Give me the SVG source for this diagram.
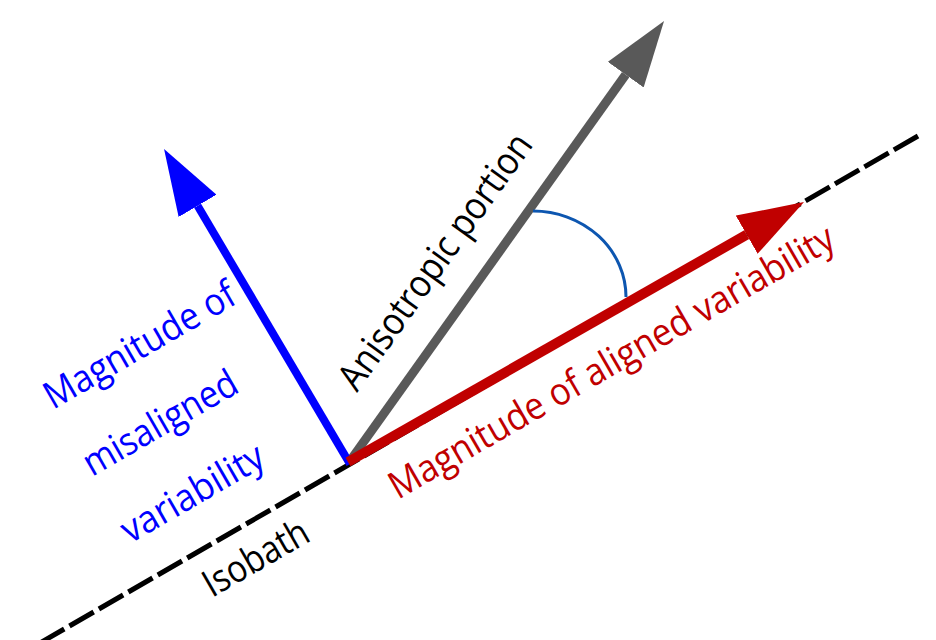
<svg xmlns="http://www.w3.org/2000/svg" width="936" height="640" viewBox="0 0 936 640">
<style>
.lbl{font-family:"Open Sans","Liberation Sans",sans-serif;font-size:38px}
.blue{fill:#0000ff}
.red{fill:#c00000}
.blk{fill:#000000}
</style>
<defs>
<marker id="hBlue" markerUnits="userSpaceOnUse" markerWidth="66" markerHeight="44" viewBox="0 0 66 44" refX="0" refY="22" orient="auto"><path d="M0,0 L66,22 L0,44 Z" fill="#0000ff"/></marker>
<marker id="hGray" markerUnits="userSpaceOnUse" markerWidth="66" markerHeight="44" viewBox="0 0 66 44" refX="0" refY="22" orient="auto"><path d="M0,0 L66,22 L0,44 Z" fill="#595959"/></marker>
<marker id="hRed" markerUnits="userSpaceOnUse" markerWidth="66" markerHeight="44" viewBox="0 0 66 44" refX="0" refY="22" orient="auto"><path d="M0,0 L66,22 L0,44 Z" fill="#c00000"/></marker>
</defs>
<rect width="936" height="640" fill="#ffffff"/>
<g id="isobath">
<line x1="40" y1="643" x2="918" y2="136" stroke="#000" stroke-width="5" stroke-dasharray="28 6"/>
</g>
<g id="connectors">
<line id="anisotropic" x1="350" y1="461" x2="625.7" y2="74.7" stroke="#595959" stroke-width="9" marker-end="url(#hGray)"/>
<line id="misaligned" x1="350" y1="464" x2="197.6" y2="205.8" stroke="#0000ff" stroke-width="8" marker-end="url(#hBlue)"/>
<line id="aligned" x1="348" y1="462" x2="746.7" y2="234.7" stroke="#c00000" stroke-width="10" marker-end="url(#hRed)"/>
<path id="angle" d="M533,211 A93,86 0 0 1 626,297" fill="none" stroke="#0d56b0" stroke-width="3"/>
</g>
<g id="label-misaligned">
<text class="lbl blue" transform="translate(53,410) rotate(-30)" textLength="215" lengthAdjust="spacingAndGlyphs">Magnitude of</text>
<text class="lbl blue" transform="translate(92,477) rotate(-30)" textLength="172" lengthAdjust="spacingAndGlyphs">misaligned</text>
<text class="lbl blue" transform="translate(130,544) rotate(-30)" textLength="159" lengthAdjust="spacingAndGlyphs">variability</text>
</g>
<g id="label-anisotropic">
<text class="lbl blk" transform="translate(357,393) rotate(-54.5)" textLength="305" lengthAdjust="spacingAndGlyphs">Anisotropic portion</text>
</g>
<g id="label-aligned">
<text class="lbl red" transform="translate(398,500) rotate(-30)" textLength="508" lengthAdjust="spacingAndGlyphs">Magnitude of aligned variability</text>
</g>
<g id="label-isobath">
<text class="lbl blk" transform="translate(212,598) rotate(-30)" textLength="116" lengthAdjust="spacingAndGlyphs">Isobath</text>
</g>
</svg>
